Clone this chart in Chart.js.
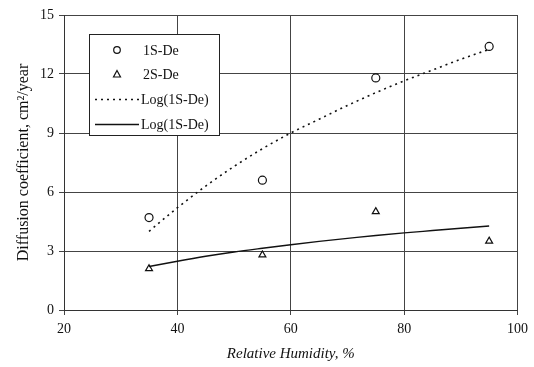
<!DOCTYPE html>
<html>
<head>
<meta charset="utf-8">
<script src="https://cdn.jsdelivr.net/npm/chart.js@4.4.1/dist/chart.umd.min.js"></script>
<style>
  html, body { margin: 0; padding: 0; background: #fff; }
  #wrap { width: 534px; height: 367px; }
</style>
</head>
<body>
<div id="wrap"><canvas id="c" width="534" height="367"></canvas></div>
<script>
// measured points
const humidity = [35, 55, 75, 95];
const de1 = [4.7, 6.6, 11.8, 13.4];
const de2 = [2.1, 2.8, 5.0, 3.5];

// logarithmic trend lines
const trendX = [35, 40, 45, 50, 55, 60, 65, 70, 75, 80, 85, 90, 95];
const trend1 = [4.0, 5.2, 6.3, 7.3, 8.2, 9.0, 9.7, 10.4, 11.05, 11.65, 12.2, 12.75, 13.25];
const trend2 = [2.21, 2.48, 2.73, 2.95, 3.14, 3.32, 3.49, 3.64, 3.79, 3.92, 4.04, 4.16, 4.27];

const xTicks = [20, 40, 60, 80, 100];
const yTicks = [0, 3, 6, 9, 12, 15];

const seriesNames = ['1S-De', '2S-De', 'Log(1S-De)', 'Log(1S-De)'];

const pts = (xs, ys) => xs.map((x, i) => ({ x: x, y: ys[i] }));
const FONT = '"Liberation Serif", "Times New Roman", serif';

// boxed legend drawn inside the plot
const boxLegend = {
  id: 'boxLegend',
  afterDraw(chart) {
    const ctx = chart.ctx;
    const x0 = 89, y0 = 34, w = 130, h = 101;
    ctx.save();
    ctx.fillStyle = '#fff';
    ctx.fillRect(x0, y0, w, h);
    ctx.strokeStyle = '#222';
    ctx.lineWidth = 1;
    ctx.strokeRect(x0 + 0.5, y0 + 0.5, w, h);
    ctx.font = '14px ' + FONT;
    ctx.fillStyle = '#111';
    ctx.textBaseline = 'middle';
    const rows = [50, 74, 99, 124];
    chart.data.datasets.forEach((ds, i) => {
      const y = rows[i];
      ctx.strokeStyle = '#111';
      if (ds.showLine) {
        ctx.lineWidth = ds.borderWidth;
        ctx.setLineDash(ds.borderDash || []);
        ctx.beginPath();
        ctx.moveTo(95, y + 0.5);
        ctx.lineTo(139, y + 0.5);
        ctx.stroke();
        ctx.setLineDash([]);
      } else {
        ctx.lineWidth = 1.2;
        ctx.beginPath();
        if (ds.pointStyle === 'triangle') {
          ctx.moveTo(117, y - 3.5);
          ctx.lineTo(120.5, y + 3);
          ctx.lineTo(113.5, y + 3);
          ctx.closePath();
        } else {
          ctx.arc(117, y, 3.3, 0, Math.PI * 2);
        }
        ctx.stroke();
      }
      ctx.fillText(ds.label, i < 2 ? 143 : 141, y + 1);
    });
    ctx.restore();
  }
};

new Chart(document.getElementById('c'), {
  type: 'scatter',
  data: {
    datasets: [
      {
        label: seriesNames[0],
        data: pts(humidity, de1),
        pointStyle: 'circle',
        pointRadius: 4,
        pointBorderWidth: 1.2,
        borderColor: '#111',
        backgroundColor: 'rgba(255,255,255,0)',
        showLine: false
      },
      {
        label: seriesNames[1],
        data: pts(humidity, de2),
        pointStyle: 'triangle',
        pointRadius: 4,
        pointBorderWidth: 1.2,
        borderColor: '#111',
        backgroundColor: 'rgba(255,255,255,0)',
        showLine: false
      },
      {
        label: seriesNames[2],
        data: pts(trendX, trend1),
        showLine: true,
        pointRadius: 0,
        borderColor: '#111',
        borderWidth: 1.6,
        borderDash: [2, 4],
        cubicInterpolationMode: 'monotone'
      },
      {
        label: seriesNames[3],
        data: pts(trendX, trend2),
        showLine: true,
        pointRadius: 0,
        borderColor: '#111',
        borderWidth: 1.4,
        cubicInterpolationMode: 'monotone'
      }
    ]
  },
  options: {
    responsive: false,
    animation: false,
    layout: { padding: { left: 14, right: 15, top: 15, bottom: 0 } },
    plugins: {
      legend: { display: false },
      tooltip: { enabled: false }
    },
    scales: {
      x: {
        type: 'linear',
        min: 20,
        max: 100,
        afterBuildTicks: (s) => { s.ticks = xTicks.map(v => ({ value: v })); },
        afterFit: (s) => { s.height = 57; },
        grid: { color: '#444', lineWidth: 1, tickLength: 5, drawTicks: true },
        border: { color: '#333', width: 1 },
        ticks: { color: '#111', font: { family: FONT, size: 14 }, padding: 6 },
        title: {
          display: true,
          text: 'Relative Humidity, %',
          color: '#111',
          font: { family: FONT, size: 15, style: 'italic' },
          padding: { top: 6 }
        }
      },
      y: {
        min: 0,
        max: 15,
        afterBuildTicks: (s) => { s.ticks = yTicks.map(v => ({ value: v })); },
        afterFit: (s) => { s.width = 50; },
        grid: { color: '#444', lineWidth: 1, tickLength: 5, drawTicks: true },
        border: { color: '#333', width: 1 },
        ticks: { color: '#111', font: { family: FONT, size: 14 }, padding: 5 },
        title: {
          display: true,
          text: 'Diffusion coefficient, cm²/year',
          color: '#111',
          font: { family: FONT, size: 16 },
          padding: 0
        }
      }
    }
  },
  plugins: [boxLegend]
});
</script>
</body>
</html>
